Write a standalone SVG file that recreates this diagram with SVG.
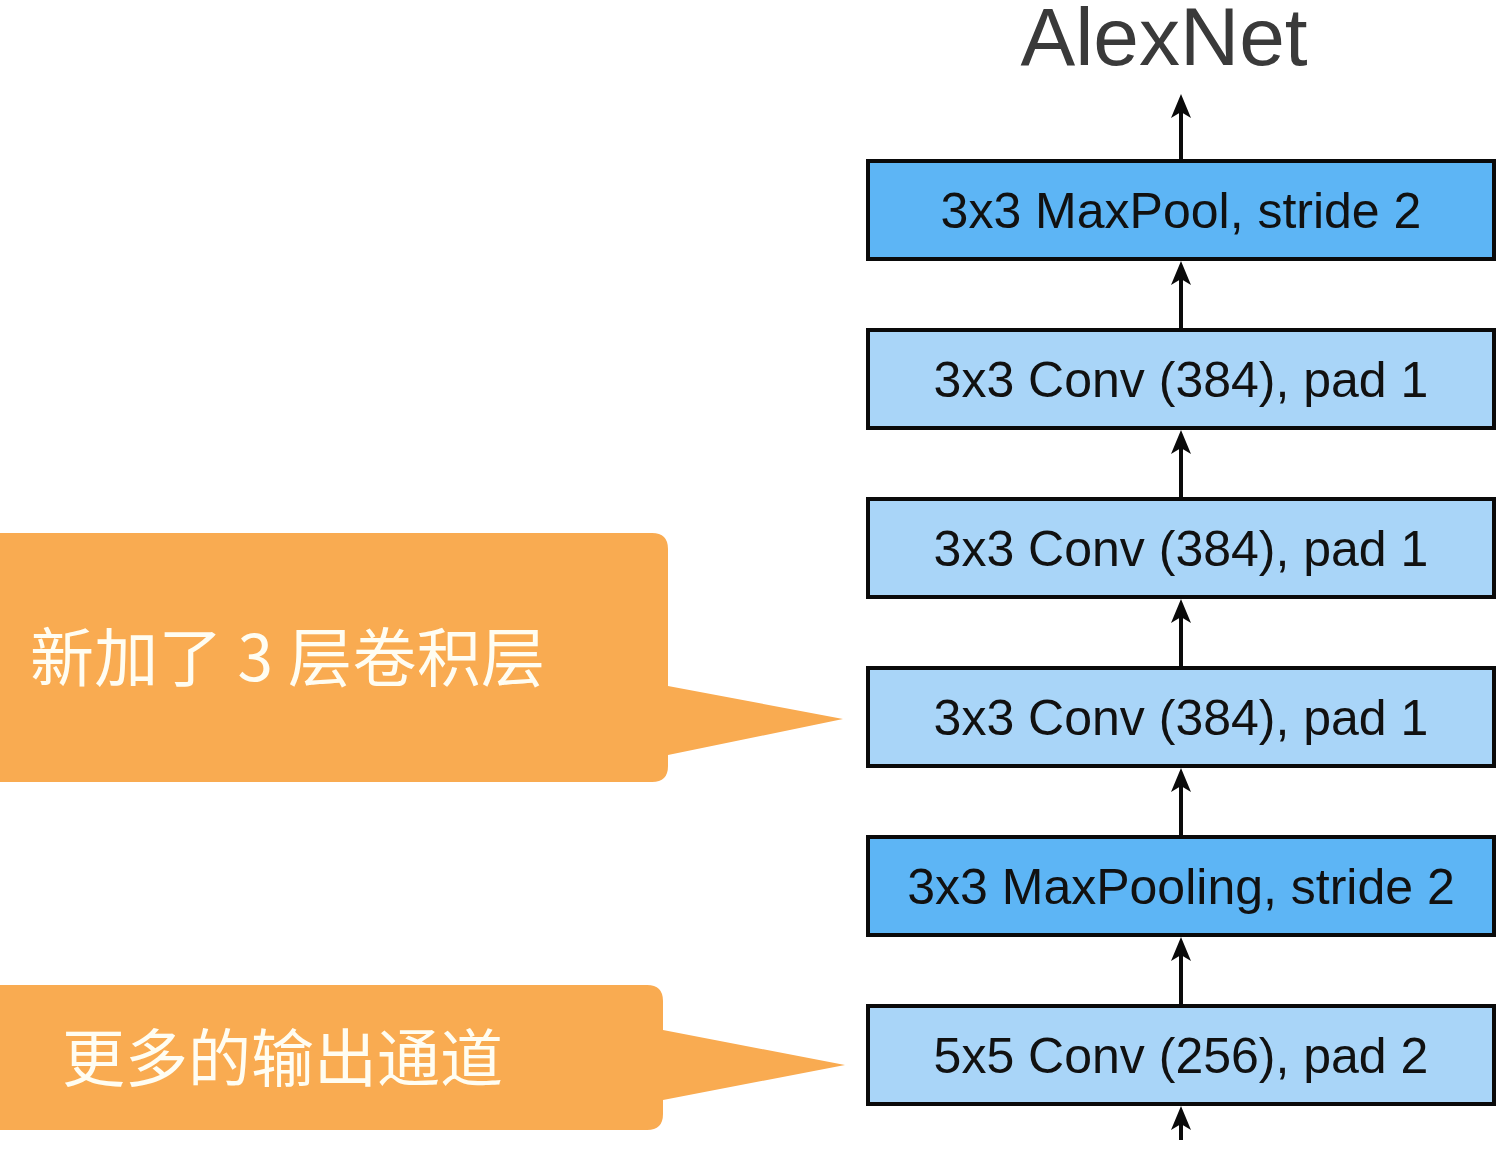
<svg xmlns="http://www.w3.org/2000/svg" width="1506" height="1149" viewBox="0 0 1506 1149">
<style>
.box{stroke:#0a0a0a;stroke-width:4}
.pool{fill:#5DB5F5}
.conv{fill:#A9D5F8}
.lbl{font-family:"Liberation Sans",Arial,sans-serif;font-size:50px;fill:#111;text-anchor:middle}
.title{font-family:"Liberation Sans",Arial,sans-serif;font-size:82px;fill:#3a3a3a;text-anchor:middle}
.callout{fill:#F9AB51}
.ctext{font-family:"Noto Sans CJK SC","Noto Sans",sans-serif;fill:#FFFDF2}
.conn{stroke:#0a0a0a;stroke-width:4;fill:none;marker-end:url(#ah)}
</style>
<defs>
<marker id="ah" markerUnits="userSpaceOnUse" viewBox="-6 -10 24 20" markerWidth="24" markerHeight="20" refX="0" refY="0" orient="auto">
<path d="M18,0 L-6,-10 L0,0 L-6,10 Z" fill="#0a0a0a"/>
</marker>
</defs>
<rect width="1506" height="1149" fill="#ffffff"/>
<text id="title" class="title" x="1164" y="65">AlexNet</text>
<g id="connectors">
<line class="conn" x1="1181" y1="161" x2="1181" y2="112"/>
<line class="conn" x1="1181" y1="330" x2="1181" y2="279"/>
<line class="conn" x1="1181" y1="499" x2="1181" y2="448"/>
<line class="conn" x1="1181" y1="668" x2="1181" y2="617"/>
<line class="conn" x1="1181" y1="837" x2="1181" y2="786"/>
<line class="conn" x1="1181" y1="1006" x2="1181" y2="955"/>
<line class="conn" x1="1181" y1="1140" x2="1181" y2="1124"/>
</g>
<g id="maxpool2">
<rect class="box pool" x="868" y="161" width="626" height="98"/>
<text class="lbl" x="1181" y="228">3x3 MaxPool, stride 2</text>
</g>
<g id="conv384c">
<rect class="box conv" x="868" y="330" width="626" height="98"/>
<text class="lbl" x="1181" y="397">3x3 Conv (384), pad 1</text>
</g>
<g id="conv384b">
<rect class="box conv" x="868" y="499" width="626" height="98"/>
<text class="lbl" x="1181" y="566">3x3 Conv (384), pad 1</text>
</g>
<g id="conv384a">
<rect class="box conv" x="868" y="668" width="626" height="98"/>
<text class="lbl" x="1181" y="735">3x3 Conv (384), pad 1</text>
</g>
<g id="maxpool1">
<rect class="box pool" x="868" y="837" width="626" height="98"/>
<text class="lbl" x="1181" y="904">3x3 MaxPooling, stride 2</text>
</g>
<g id="conv256">
<rect class="box conv" x="868" y="1006" width="626" height="98"/>
<text class="lbl" x="1181" y="1073">5x5 Conv (256), pad 2</text>
</g>
<g id="callout1">
<path class="callout" d="M-20,533 H652 Q668,533 668,549 V686 L843,719 L668,755 V766 Q668,782 652,782 H-20 Z"/>
<text class="ctext" x="30" y="681" font-size="64" textLength="515">新加了 3 层卷积层</text>
</g>
<g id="callout2">
<path class="callout" d="M-20,985 H647 Q663,985 663,1001 V1030 L845,1065 L663,1100 V1114 Q663,1130 647,1130 H-20 Z"/>
<text class="ctext" x="62" y="1081" font-size="63">更多的输出通道</text>
</g>
</svg>
